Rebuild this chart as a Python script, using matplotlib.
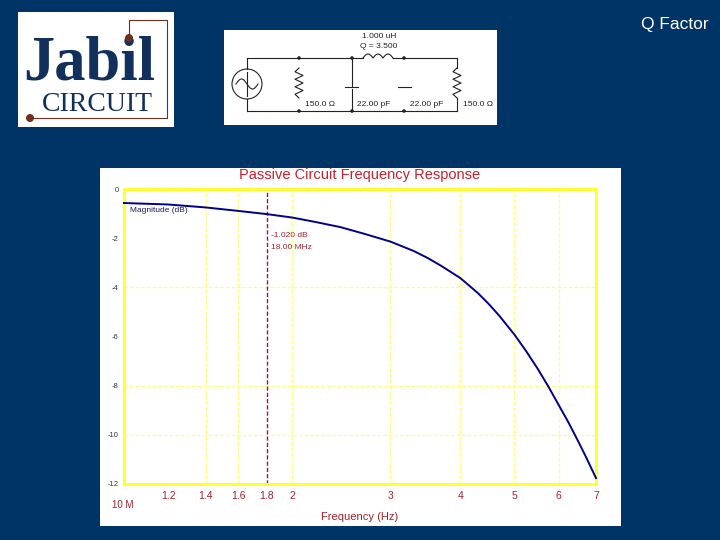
import matplotlib
matplotlib.use("Agg")
import matplotlib.pyplot as plt
from matplotlib.patches import Rectangle, Circle
import numpy as np

plt.rcParams["font.family"] = ["Liberation Sans", "DejaVu Sans"]

# Response curve, frequency in MHz and magnitude in dB
freq_mhz = [10, 12, 14, 16, 18, 20, 22, 24.4, 27, 30, 33, 35, 37, 40, 43, 45, 47,
            50, 52.5, 55, 57.5, 60, 62.5, 65, 67, 70]
mag_db = [-0.57, -0.63, -0.75, -0.89, -1.02, -1.16, -1.34, -1.55, -1.83, -2.14,
          -2.52, -2.81, -3.13, -3.62, -4.23, -4.68, -5.16, -5.92, -6.6, -7.3,
          -8.03, -8.78, -9.5, -10.25, -10.85, -11.76]

# Axis ticks and gridlines
x_ticks = [12, 14, 16, 18, 20, 30, 40, 50, 60, 70]
x_labels = ["1.2", "1.4", "1.6", "1.8", "2", "3", "4", "5", "6", "7"]
y_ticks = [0, -2, -4, -6, -8, -10, -12]
y_labels = ["0", "-2", "-4", "-6", "-8", "-10", "-12"]
x_grid = [14, 16, 20, 30, 40, 50, 60]
y_grid = [-4, -8, -10]
cursor_mhz = 18

BG = "#003366"
NAVY = "#12305c"
BROWN = "#6e2f1c"
RED = "#a3202c"
YELLOW = "#ffff33"
PALE = "#ffff77"
W, H = 720, 540

fig = plt.figure(figsize=(W / 100, H / 100), dpi=100, facecolor=BG)

# Overlay in pixel coordinates for the panels, logo and circuit sketch
bg = fig.add_axes([0, 0, 1, 1])
bg.set_xlim(0, W)
bg.set_ylim(H, 0)
bg.axis("off")

bg.add_patch(Rectangle((100, 168), 521, 358, fc="white", ec="none"))
bg.text(709, 25, "Q Factor", color="white", fontsize=12.5, ha="right", va="center")

# Logo
bg.add_patch(Rectangle((18, 12), 156, 115, fc="white", ec="none"))
bg.text(23, 80, "Jabil", family="Liberation Serif", fontsize=45, fontweight="bold",
        color=NAVY, ha="left", va="baseline")
bg.text(97, 111, "CIRCUIT", family="Liberation Serif", fontsize=20, color=NAVY,
        ha="center", va="baseline")
bg.plot([129, 129, 167, 167, 30], [38, 20, 20, 118, 118], color=BROWN, lw=0.8)
bg.add_patch(Circle((129, 38), 4, fc=BROWN, ec="none", zorder=5))
bg.add_patch(Circle((30, 118), 4, fc=BROWN, ec="none", zorder=5))

# Circuit sketch
bg.add_patch(Rectangle((224, 30), 273, 95, fc="white", ec="none"))
wire = dict(color="#222222", lw=0.8)
top, bot = 58, 111
bg.plot([247, 247], [top, 69], **wire)
bg.plot([247, 247], [99, bot], **wire)
bg.plot([247, 363], [top, top], **wire)
bg.plot([393, 457], [top, top], **wire)
bg.plot([247, 457], [bot, bot], **wire)
bg.add_patch(Circle((247, 84), 15, fc="none", ec="#222222", lw=0.8))
bg.plot([247, 247], [72, 96], **wire)
s = np.linspace(0, 1, 40)
bg.plot(236 + 22 * s, 84 - 5 * np.sin(2 * np.pi * s), **wire)

for rx, y0, y1 in [(299, 68, 98), (457, 68, 98)]:
    zy = np.linspace(y0, y1, 9)
    zx = rx + np.array([0, -4, 4, -4, 4, -4, 4, -4, 0])
    bg.plot(zx, zy, **wire)
bg.plot([457, 457], [top, 68], **wire)
bg.plot([457, 457], [98, bot], **wire)

bg.plot([352, 352], [top, 86], **wire)
bg.plot([345, 358], [87, 87], **wire)
bg.plot([352, 352], [89, bot], **wire)
bg.plot([398, 411], [87, 87], **wire)

s = np.linspace(0, 1, 120)
bg.plot(363 + 30 * s, top - 4 * np.abs(np.sin(3 * np.pi * s)), **wire)

for dx, dy in [(299, top), (352, top), (404, top), (299, bot), (352, bot), (404, bot)]:
    bg.add_patch(Circle((dx, dy), 1.8, fc="#222222", ec="none"))

small = dict(fontsize=6, color="#222222", va="center")
bg.text(379, 37, "1.000 uH", ha="center", **small)
bg.text(379, 46, "Q = 3.500", ha="center", **small)
bg.text(305, 104, "150.0 Ω", ha="left", **small)
bg.text(357, 104, "22.00 pF", ha="left", **small)
bg.text(410, 104, "22.00 pF", ha="left", **small)
bg.text(463, 104, "150.0 Ω", ha="left", **small)

# Panel texts that sit outside the plot frame
bg.text(360, 175, "Passive Circuit Frequency Response", color="#c8202c", fontsize=10.5,
        ha="center", va="center")
bg.text(112, 505, "10 M", color=RED, fontsize=7, ha="left", va="center")
bg.text(360, 517, "Frequency (Hz)", color=RED, fontsize=8, ha="center", va="center")

# Main plot
ax = fig.add_axes([124 / W, 1 - 484 / H, (596 - 124) / W, (484 - 189) / H])
ax.patch.set_alpha(0)
ax.set_xscale("log")
ax.set_xlim(10, 70)
ax.set_ylim(-12, 0)

for g in x_grid:
    ax.axvline(g, color=PALE, lw=0.9, ls=(0, (3, 1.5)), zorder=1)
for g in y_grid:
    ax.axhline(g, color=PALE, lw=0.9, ls=(0, (3, 1.5)), zorder=1)
ax.axvline(cursor_mhz, color="#b01030", lw=1.0, ls=(0, (3, 1.5)), zorder=2)

ax.plot(freq_mhz, mag_db, color="#00008b", lw=1.4, zorder=3, clip_on=False)

ax.set_xticks(x_ticks)
ax.set_xticklabels(x_labels)
ax.minorticks_off()
ax.set_yticks(y_ticks)
ax.set_yticklabels(y_labels)
ax.tick_params(axis="x", length=0, pad=5, labelsize=7.5, labelcolor=RED)
ax.tick_params(axis="y", length=0, pad=4, labelsize=5.5, labelcolor="#333355")

for sp in ax.spines.values():
    sp.set_color(YELLOW)
    sp.set_linewidth(2.2)

ax.text(10.25, -0.88, "Magnitude (dB)", color="#1a1a60", fontsize=6, va="center")
ax.text(18.3, -1.88, "-1.020 dB", color=RED, fontsize=6, va="center")
ax.text(18.3, -2.37, "18.00 MHz", color=RED, fontsize=6, va="center")

fig.savefig("out.png", dpi=100, facecolor=BG)
